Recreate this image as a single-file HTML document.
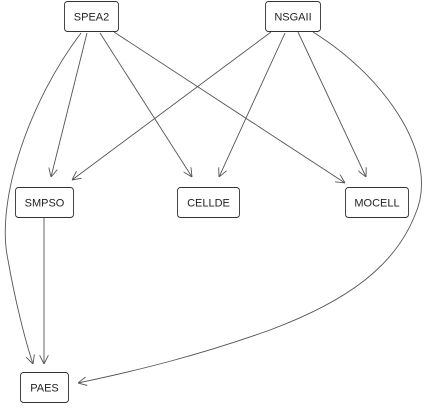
<!DOCTYPE html>
<html><head><style>body{margin:0;background:#fff}</style></head><body>
<svg width="429" height="404" xmlns="http://www.w3.org/2000/svg" font-family="Liberation Sans, sans-serif" font-size="11">
<defs><marker id="a" viewBox="0 0 10 10" refX="10" refY="5" markerWidth="9" markerHeight="9" orient="auto" markerUnits="userSpaceOnUse"><path d="M0,0 L10,5 L0,10" fill="none" stroke="#555" stroke-width="1"/></marker></defs>
<g stroke="#555" fill="none" stroke-width="0.9" marker-end="url(#a)">
<line x1="87" y1="33" x2="51" y2="177"/>
<line x1="100" y1="33" x2="192" y2="177"/>
<line x1="114" y1="32" x2="345" y2="183"/>
<path d="M81,33 C30,100 -5,200 8,260 C15,300 25,340 33,364"/>
<line x1="271" y1="32" x2="72" y2="180"/>
<line x1="285" y1="33" x2="219" y2="177"/>
<line x1="298" y1="32" x2="366" y2="177"/>
<path d="M313,32 C390,80 440,160 415,215 C395,265 350,300 270,330 C200,355 140,370 78,383"/>
<line x1="44" y1="218" x2="44" y2="364"/>
</g>
<g fill="#fff" stroke="#333" stroke-width="0.9">
<rect x="64.5" y="1.5" width="54" height="30" rx="3"/>
<rect x="265.5" y="1.5" width="55" height="30" rx="3"/>
<rect x="15.5" y="187.5" width="58" height="30" rx="3"/>
<rect x="177.5" y="187.5" width="62" height="30" rx="3"/>
<rect x="345.5" y="187.5" width="63" height="30" rx="3"/>
<rect x="20.5" y="372.5" width="48" height="30" rx="3"/>
</g>
<g fill="#222" text-anchor="middle">
<text x="91.5" y="20.5">SPEA2</text>
<text x="293" y="20.5">NSGAII</text>
<text x="44.5" y="206.5">SMPSO</text>
<text x="208.5" y="206.5">CELLDE</text>
<text x="377" y="206.5">MOCELL</text>
<text x="44.5" y="391.5">PAES</text>
</g>
</svg>
</body></html>
